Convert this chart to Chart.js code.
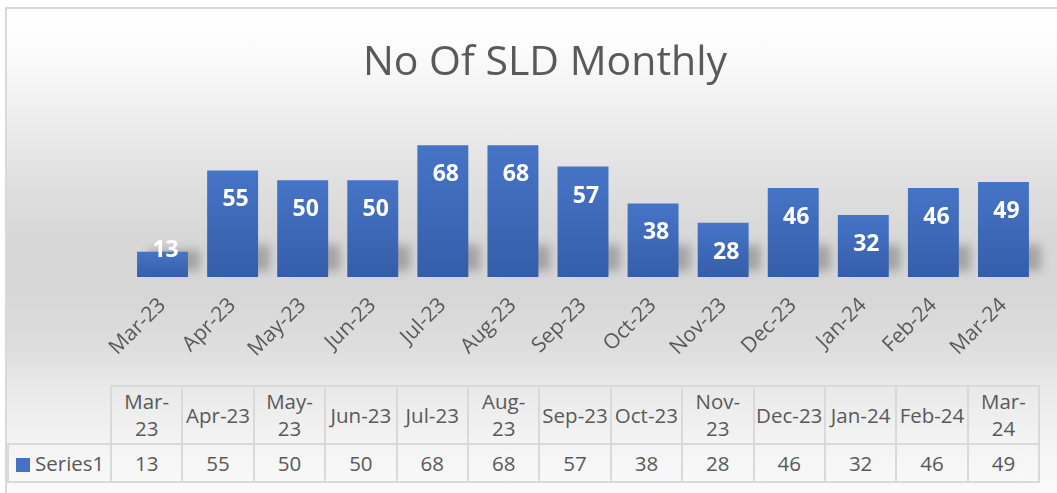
<!DOCTYPE html>
<html>
<head>
<meta charset="utf-8">
<script src="https://cdn.jsdelivr.net/npm/chart.js@4.4.1/dist/chart.umd.min.js"></script>
<style>
  html, body { margin: 0; padding: 0; background: #ffffff; }
  body { width: 1057px; height: 493px; position: relative; overflow: hidden; font-family: "Open Sans", sans-serif; }
  #frame {
    position: absolute; left: 5px; top: 7px; width: 1060px; height: 500px;
    border-left: 2px solid #d9d9d9; border-top: 2px solid #d9d9d9;
    background: linear-gradient(to bottom, #ffffff 0px, #fdfdfd 30px, #f1f1f1 95px, #e2e2e2 160px,
      #d7d7d7 230px, #d7d7d7 290px, #dedede 340px, #e9e9e9 378px, #f3f3f3 430px, #fafafa 486px);
  }
  #chart { position: absolute; left: 0; top: 0; }
  #table {
    position: absolute; left: 7px; top: 385px;
    border-collapse: collapse; table-layout: fixed; color: #595959; font-size: 20.5px;
  }
  #table td { border: 2px solid #d9d9d9; text-align: center; padding: 0; line-height: 27px; white-space: nowrap; }
  #table tr.head td { height: 56px; }
  #table tr.vals td { height: 36px; }
  #table td.corner { border-top: none; border-left: none; }
  #table td.name { text-align: left; padding-left: 7px; }
  #table .key { display: inline-block; width: 14px; height: 14px; background: #4472c4; margin-right: 5px; vertical-align: -1px; }
</style>
</head>
<body>
<div id="frame"></div>
<canvas id="chart" width="1057" height="385"></canvas>
<table id="table"></table>
<script>
const months = [
  "Mar-23", "Apr-23", "May-23", "Jun-23", "Jul-23", "Aug-23", "Sep-23",
  "Oct-23", "Nov-23", "Dec-23", "Jan-24", "Feb-24", "Mar-24",
];
const sldCounts = [13, 55, 50, 50, 68, 68, 57, 38, 28, 46, 32, 46, 49];
const seriesName = "Series1";
// header text of the data table, as it wraps in the picture
const tableHeads = [
  ["Mar-", "23"], ["Apr-23"], ["May-", "23"], ["Jun-23"], ["Jul-23"], ["Aug-", "23"], ["Sep-23"],
  ["Oct-23"], ["Nov-", "23"], ["Dec-23"], ["Jan-24"], ["Feb-24"], ["Mar-", "24"],
];

// data table under the chart
const table = document.querySelector("#table");
let html = '<colgroup><col style="width:103px">';
months.forEach(() => { html += '<col style="width:71.4px">'; });
html += '</colgroup><tr class="head"><td class="corner"></td>';
tableHeads.forEach((h) => { html += "<td>" + h.join("<br>") + "</td>"; });
html += '</tr><tr class="vals"><td class="name"><span class="key"></span>' + seriesName + "</td>";
sldCounts.forEach((v) => { html += "<td>" + v + "</td>"; });
html += "</tr>";
table.innerHTML = html;

const barShadow = {
  id: "barShadow",
  beforeDatasetsDraw(chart) {
    const ctx = chart.ctx;
    chart.getDatasetMeta(0).data.forEach((bar) => {
      const h = Math.min(bar.base - bar.y, 30);
      const left = bar.x - bar.width / 2;
      ctx.save();
      ctx.filter = "blur(5px)";
      ctx.fillStyle = "rgba(0,0,0,0.24)";
      ctx.fillRect(left + 12, bar.base - h - 2, bar.width, h - 4);
      ctx.restore();
    });
  },
};

const barLabels = {
  id: "barLabels",
  afterDatasetsDraw(chart) {
    const ctx = chart.ctx;
    ctx.save();
    ctx.font = "bold 23px 'Open Sans'";
    ctx.fillStyle = "#ffffff";
    ctx.textAlign = "center";
    ctx.textBaseline = "middle";
    chart.getDatasetMeta(0).data.forEach((bar, i) => {
      let y = bar.y + 29.5;
      if (y > bar.base - 13) y = bar.y - 1;
      ctx.fillText(String(sldCounts[i]), bar.x + 3, y);
    });
    ctx.restore();
  },
};

const chartSld = document.querySelector("#chart").getContext("2d");

new Chart(chartSld, {
  type: "bar",
  data: {
    labels: months,
    datasets: [
      {
        label: seriesName,
        data: sldCounts,
        categoryPercentage: 1,
        barPercentage: 0.727,
        backgroundColor: (c) => {
          const { chartArea, scales } = c.chart;
          if (!chartArea || c.type !== "data") return "#4472c4";
          const top = scales.y.getPixelForValue(c.raw);
          const base = scales.y.getPixelForValue(0);
          const g = c.chart.ctx.createLinearGradient(0, top, 0, base);
          g.addColorStop(0, "#4674c6");
          g.addColorStop(1, "#355ea9");
          return g;
        },
      },
    ],
  },
  options: {
    responsive: false,
    animation: false,
    layout: { padding: { left: 51.5, right: 18.5, top: 0, bottom: 0 } },
    scales: {
      y: {
        min: 0,
        max: 80,
        grid: { display: false, drawTicks: false },
        border: { display: false },
        ticks: { display: false },
        afterFit: (scale) => { scale.width = 76; },
      },
      x: {
        grid: { display: false, drawTicks: false },
        border: { display: false },
        ticks: {
          autoSkip: false,
          minRotation: 45,
          maxRotation: 45,
          padding: 16,
          color: "#595959",
          font: { family: "'Open Sans'", size: 21 },
        },
        afterFit: (scale) => { scale.height = 108; },
      },
    },
    plugins: {
      legend: { display: false },
      tooltip: { enabled: false },
      title: {
        display: true,
        text: "No Of SLD Monthly",
        color: "#595959",
        font: { family: "'Open Sans'", size: 41, weight: "normal", lineHeight: 1.2 },
        padding: { top: 39, bottom: 33.8 },
      },
    },
  },
  plugins: [barShadow, barLabels],
});
</script>
</body>
</html>
